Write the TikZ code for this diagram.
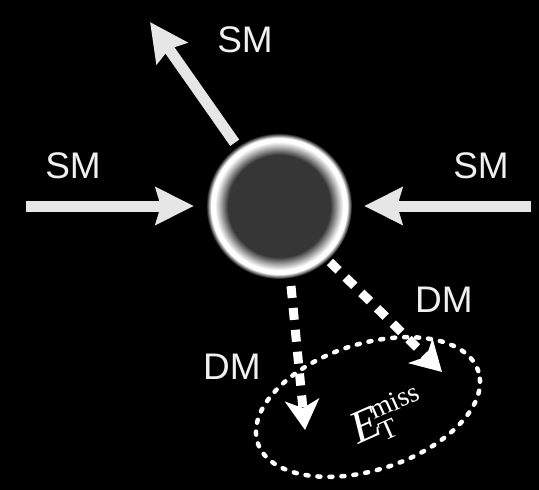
\documentclass[tikz,border=0pt]{standalone}
\usepackage{fontspec}
\setmainfont{Liberation Sans}
\newfontfamily\serifE{Liberation Serif}
\usetikzlibrary{arrows.meta,shapes.geometric}
\definecolor{arrowgrey}{HTML}{E6E6E6}
\definecolor{balldark}{HTML}{363636}
\pgfdeclareradialshading{ball}{\pgfpoint{0bp}{0bp}}{%
  color(0bp)=(balldark); color(17.5bp)=(balldark); color(20.5bp)=(white!75!black);
  color(22bp)=(white); color(23.3bp)=(white); color(25bp)=(black); color(50bp)=(black)}
\tikzset{
  smarrow/.style={draw=arrowgrey, line width=11pt,
    -{Stealth[length=38pt,width=37pt,inset=5pt,fill=arrowgrey]}},
  dmarrow/.style={draw=white, line width=9pt, dash pattern=on 12pt off 10pt,
    -{Stealth[length=30pt,width=34pt,inset=8pt,fill=white]}},
  lbl/.style={text=white!94!black, font=\fontsize{37}{40}\selectfont, inner sep=0pt},
}
\begin{document}
\begin{tikzpicture}[x=1pt,y=-1pt]
\fill[black] (0,0) rectangle (539,490);
\useasboundingbox (0,0) rectangle (539,490);
% central blob
\node[circle, minimum size=146pt, inner sep=0pt, shading=ball] (c) at (279,206) {};
% SM arrows
\coordinate (lstart) at (26,206);
\coordinate (rstart) at (531,206);
\coordinate (ttip) at (150,22);
\draw[smarrow] (lstart) -- ([xshift=-12pt]c.west);
\draw[smarrow] (rstart) -- ([xshift=12pt]c.east);
\draw[smarrow, shorten <=4pt] (c.125) -- (ttip);
\node[lbl] (sml) at (73,166) {SM};
\node[lbl] (smr) at (481,166) {SM};
\node[lbl] (smt) at (245,40) {SM};
% missing energy ellipse
\node[ellipse, draw=white, line width=4.5pt, dash pattern=on 3pt off 9pt, line cap=round,
  minimum width=232pt, minimum height=126pt, rotate=18, inner sep=0pt] (el) at (368,407) {};
\node[text=white, rotate=24, inner sep=0pt] (et) at (372,424)
  {\serifE\fontsize{46}{48}\selectfont\itshape E\upshape\kern-3pt\rlap{\raisebox{16pt}{\fontsize{28}{30}\selectfont miss}}\raisebox{-8pt}{\fontsize{28}{30}\selectfont T}};
% DM arrows
\coordinate (d1s) at (291,286);
\coordinate (d1t) at (305,430);
\coordinate (d2s) at (330,262);
\coordinate (d2t) at (442,372);
\draw[dmarrow] (d1s) -- (d1t);
\draw[dmarrow] (d2s) -- (d2t);
\node[lbl] (dm1) at (232,367) {DM};
\node[lbl] (dm2) at (444,300) {DM};
\end{tikzpicture}
\end{document}
